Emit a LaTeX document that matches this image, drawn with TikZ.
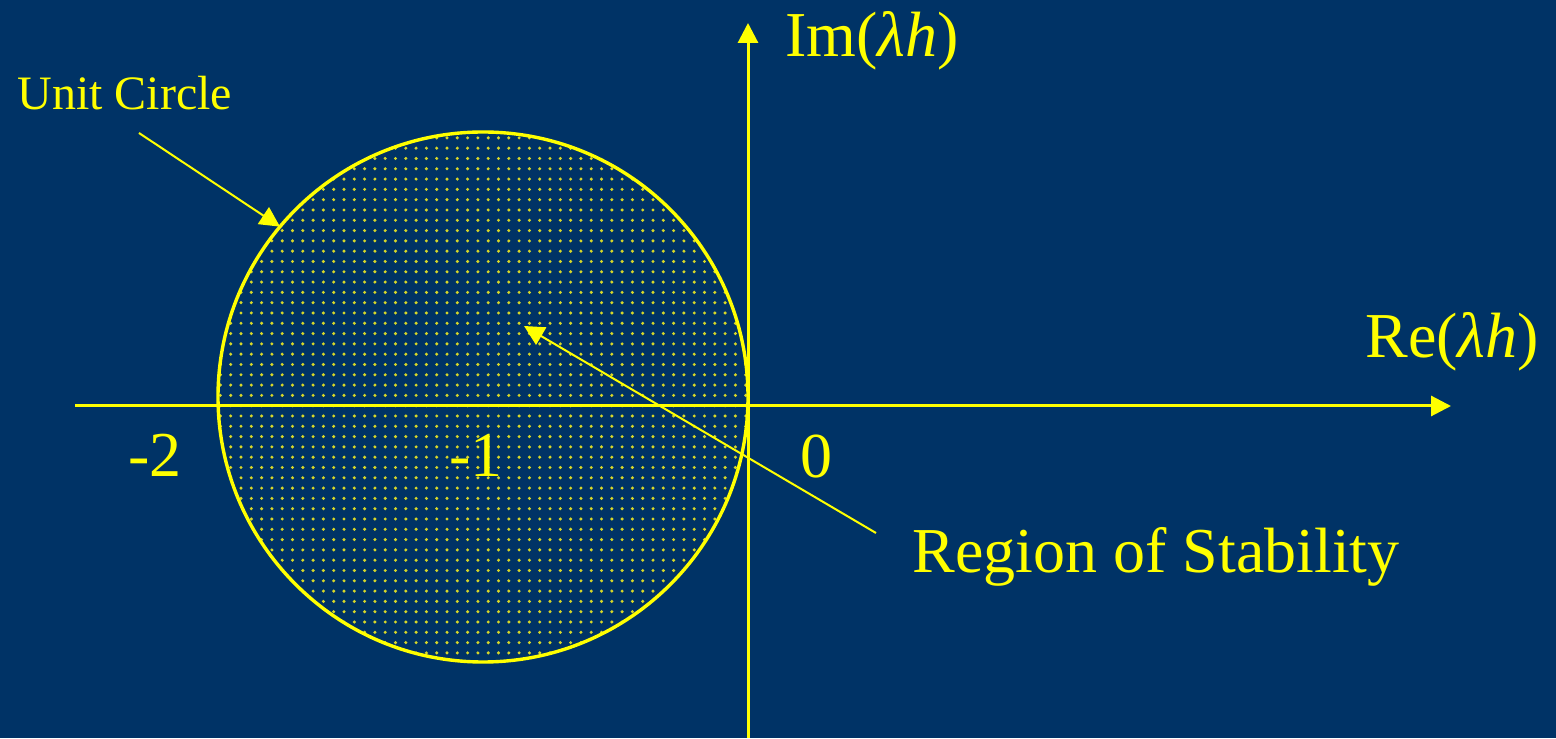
\documentclass[tikz,border=0pt]{standalone}
\usepackage{fontspec}
\setmainfont{Liberation Serif}
\usetikzlibrary{arrows.meta}
\definecolor{navybg}{RGB}{0,51,102}
\definecolor{yel}{RGB}{255,255,0}
\definecolor{dotyel}{RGB}{215,215,40}
\tikzset{
  axisline/.style={draw=yel, line width=1.5pt, -{Triangle[length=10pt,width=10pt]}},
  pointer/.style={draw=yel, line width=1pt, -{Triangle[length=10pt,width=10pt]}},
  biglabel/.style={text=yel, font=\fontsize{32}{36}\selectfont, anchor=base west, inner sep=0pt},
  smalllabel/.style={text=yel, font=\fontsize{24}{28}\selectfont, anchor=base west, inner sep=0pt},
  unitcirc/.style={circle, draw=yel, line width=1.7pt, minimum size=265pt, inner sep=0pt, outer sep=0pt}
}

\begin{document}
\begin{tikzpicture}[x=0.5pt, y=0.5pt]
\fill[navybg] (0,0) rectangle (1556,738);
\useasboundingbox (0,0) rectangle (1556,738);

% dotted fill of the disc
\begin{scope}
  \clip (483,341) circle (265);
  \foreach \i in {0,...,52}
    \foreach \j in {0,...,52}
      \fill[dotyel] (220.4+10.3*\i, 74.8+10.3*\j) circle (1.7);
\end{scope}
\node[unitcirc] (uc) at (483,341) {};

% axes
\coordinate (xmin) at (75,332);
\coordinate (xmax) at (1451,332);
\coordinate (ymin) at (748,0);
\coordinate (ymax) at (748,715);
\draw[axisline] (xmin) -- (xmax);
\draw[axisline] (ymin) -- (ymax);

% labels
\node[biglabel] (imlbl) at (785,681) {Im(\textit{λh})};
\node[biglabel] (relbl) at (1365,380) {Re(\textit{λh})};
\node[biglabel] (mtwo) at (128,261) {-2};
\node[biglabel] (mone) at (449,261) {-1};
\node[biglabel] (zero) at (800,260) {0};
\node[smalllabel] (uclbl) at (17,628) {Unit Circle};
\node[biglabel] (rslbl) at (912,165) {Region of Stability};

% pointers
\coordinate (uctail) at (139,605);
\coordinate (rstail) at (876,205);
\coordinate (rstip) at (524,412);
\draw[pointer] (uctail) -- (uc.140);
\draw[pointer] (rstail) -- (rstip);
\end{tikzpicture}
\end{document}
